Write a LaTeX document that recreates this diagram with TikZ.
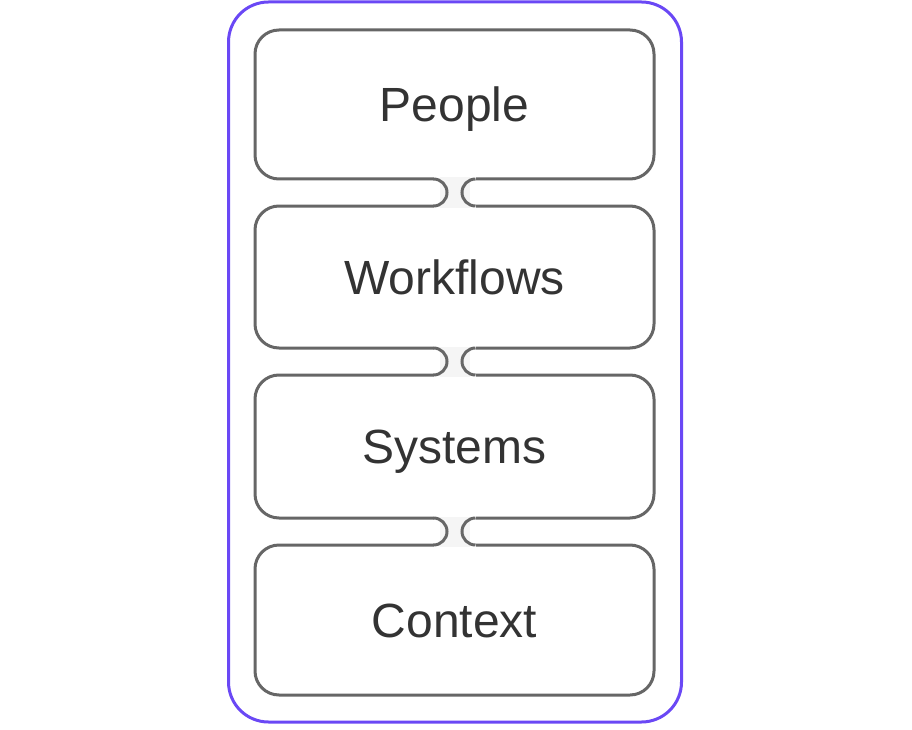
\documentclass[tikz,border=0pt]{standalone}
\usepackage{fontspec}
\setmainfont{Liberation Sans}
\definecolor{framepurple}{RGB}{106,72,245}
\definecolor{boxgray}{RGB}{102,102,102}
\definecolor{txtgray}{RGB}{51,51,51}
\definecolor{neckfill}{RGB}{245,245,245}
\begin{document}
\begin{tikzpicture}[x=1pt,y=-1pt,
  layerbox/.style={draw=boxgray, line width=3pt, rounded corners=24pt,
    minimum width=399pt, inner sep=0pt, outer sep=0pt,
    text=txtgray, font=\fontsize{48}{56}\selectfont,
    text height=34pt, text depth=0pt},
  outerframe/.style={draw=framepurple, line width=3pt, rounded corners=40pt,
    minimum width=453pt, minimum height=720pt, inner sep=0pt, outer sep=0pt},
  neckarc/.style={draw=boxgray, line width=3pt},
  neckcover/.style={fill=white, draw=none},
  neckshade/.style={fill=neckfill, draw=none}]
\useasboundingbox (0,0) rectangle (912,730);
\node[outerframe] (frame) at (455,362) {};
\node[layerbox, minimum height=149pt] (b1) at (454.5,104.5) {People};
\node[layerbox, minimum height=142pt] (b2) at (454.5,277) {Workflows};
\node[layerbox, minimum height=143pt] (b3) at (454.5,446.5) {Systems};
\node[layerbox, minimum height=150pt] (b4) at (454.5,620) {Context};
\foreach \a/\b in {b1/b2, b2/b3, b3/b4}{
  \fill[neckcover] ([xshift=-21pt,yshift=2.5pt]\a.south) rectangle ([xshift=21pt,yshift=-2.5pt]\b.north);
  \fill[neckshade] ([xshift=-15pt,yshift=1.5pt]\a.south) rectangle ([xshift=15pt,yshift=-1.5pt]\b.north);
  \draw[neckarc] ([xshift=-21pt]\a.south) arc[start angle=90, end angle=-90, radius=13.5pt];
  \draw[neckarc] ([xshift=21pt]\a.south) arc[start angle=90, end angle=270, radius=13.5pt];
}
\end{tikzpicture}
\end{document}
